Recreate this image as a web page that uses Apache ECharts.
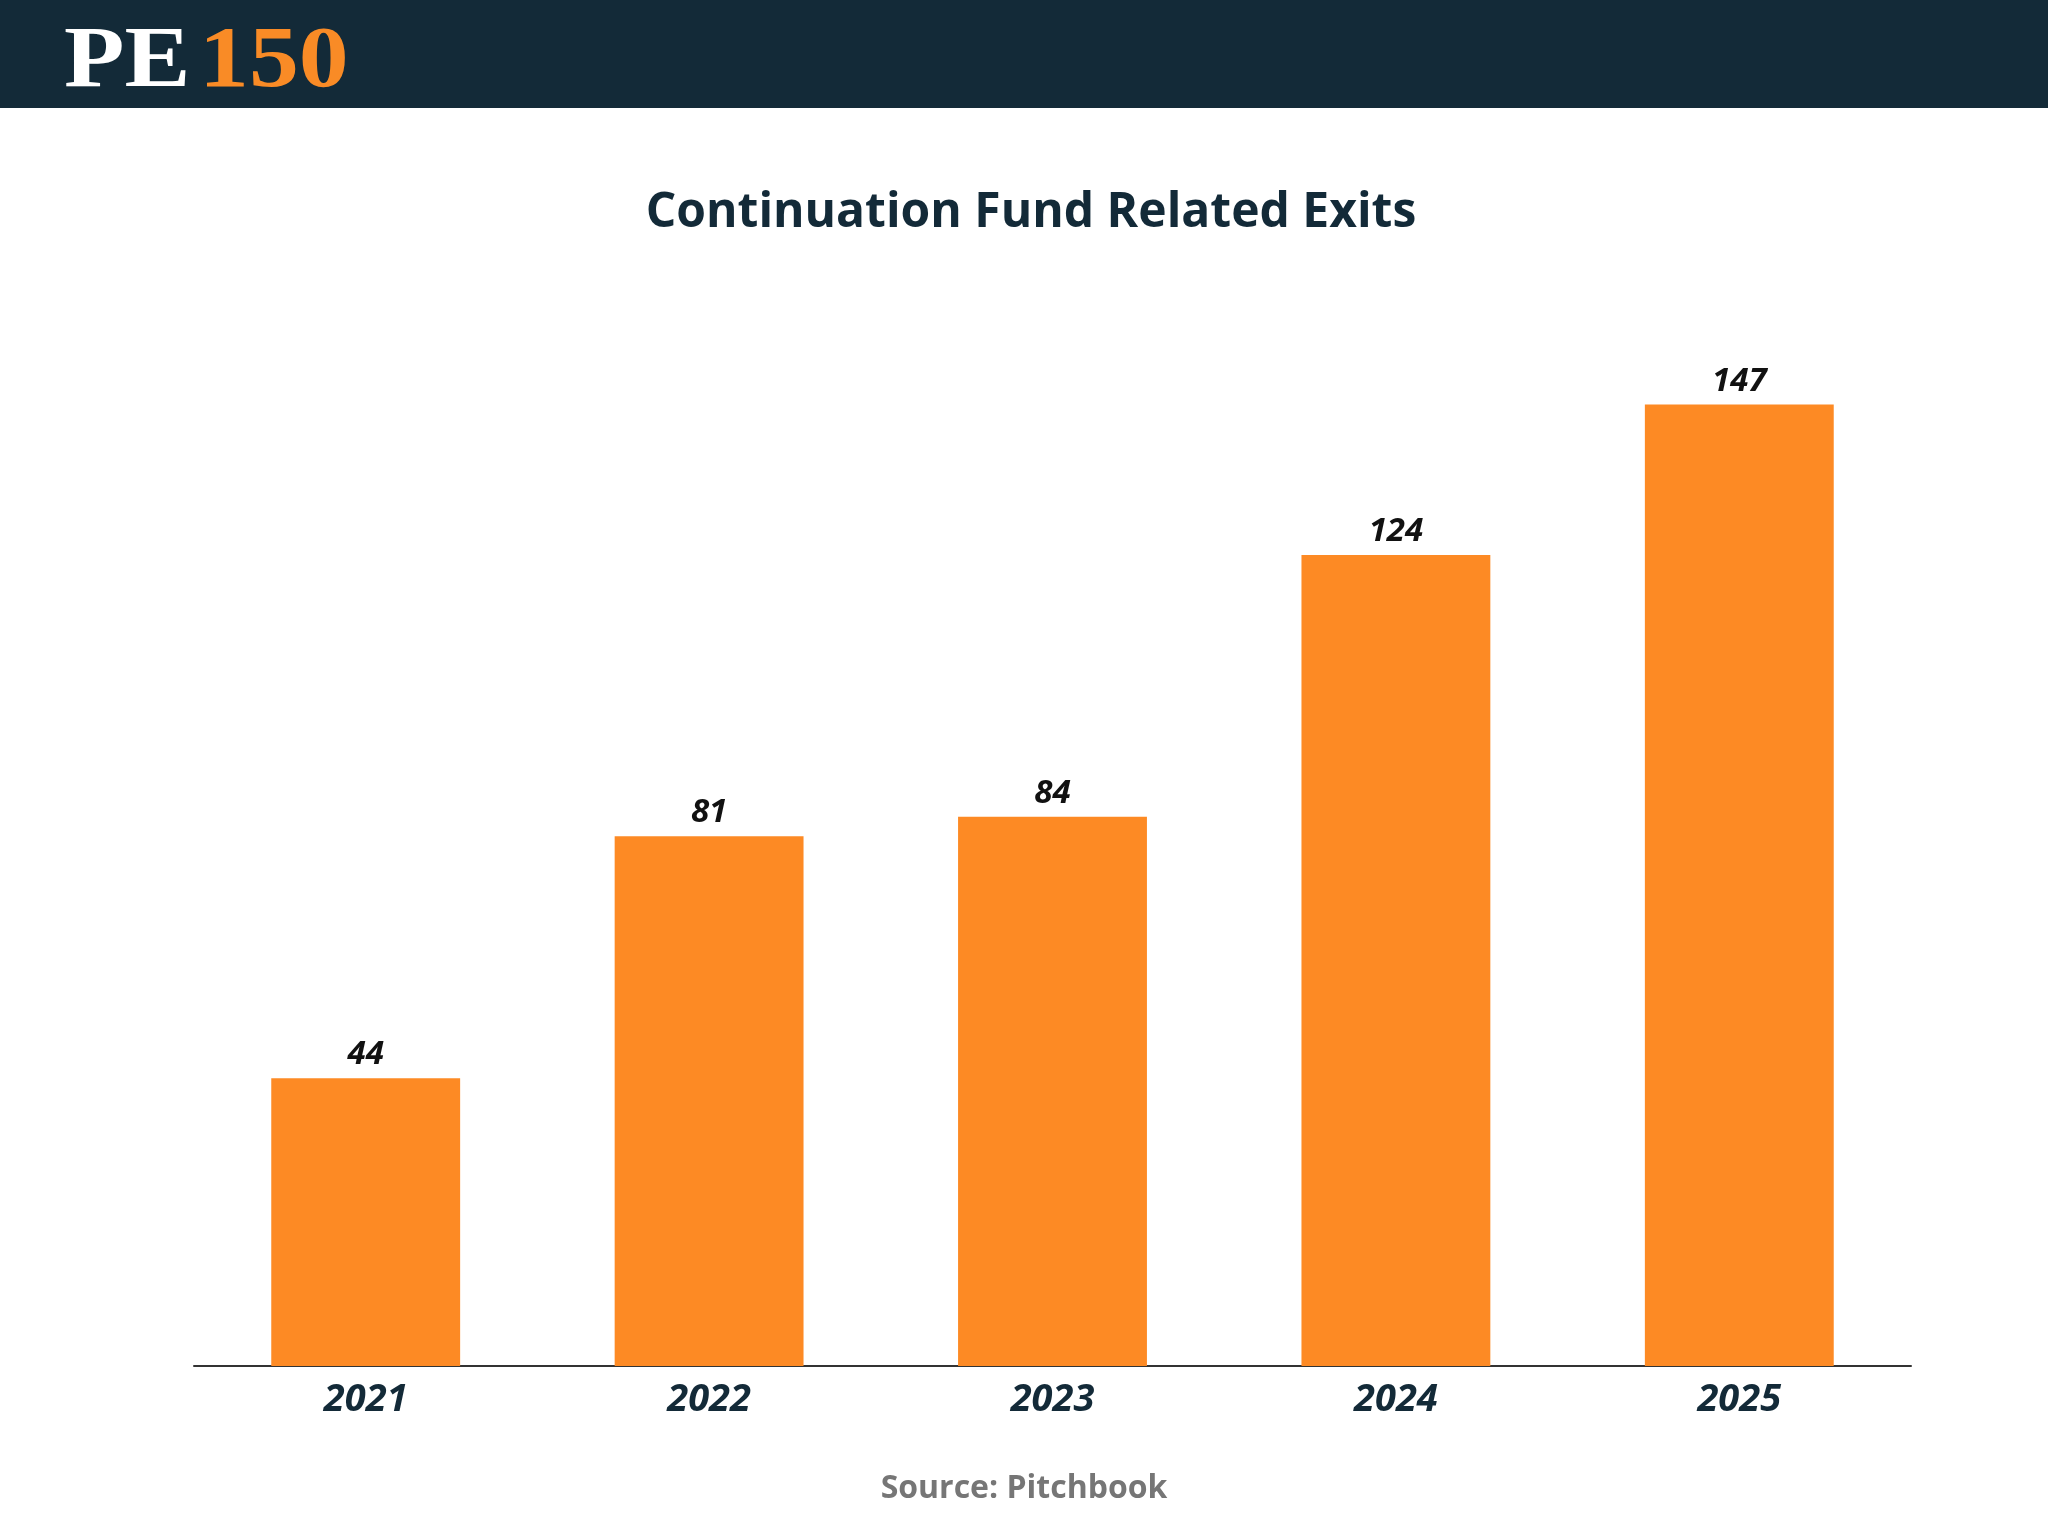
<!DOCTYPE html>
<html>
<head>
<meta charset="utf-8">
<script src="https://cdn.jsdelivr.net/npm/echarts@6/dist/echarts.min.js"></script>
<style>
html,body{margin:0;padding:0;background:#fff;}
#c{width:2048px;height:1536px;}
</style>
</head>
<body>
<div id="c"></div>
<script>
const categories = ['2021', '2022', '2023', '2024', '2025'];
const exits = [44, 81, 84, 124, 147];
const titleText = 'Continuation Fund Related Exits';
const sourceText = 'Source: Pitchbook';

const chart = echarts.init(document.getElementById('c'), null, {renderer: 'canvas'});
chart.setOption({
  backgroundColor: '#ffffff',
  animation: false,
  graphic: [
    {type: 'rect', left: 0, top: 0, shape: {width: 2048, height: 108}, style: {fill: '#132a38'}, z: 0},
    {type: 'text', x: 64, y: 64, scaleX: 1.15, style: {text: 'PE', fill: '#ffffff', font: 'bold 86px "Liberation Serif"', verticalAlign: 'middle', align: 'left'}, z: 1},
    {type: 'text', x: 199, y: 64, scaleX: 1.16, style: {text: '150', fill: '#f98b26', font: 'bold 86px "Liberation Serif"', verticalAlign: 'middle', align: 'left'}, z: 1},
    {type: 'text', x: 1031, y: 213, style: {text: titleText, fill: '#132a38', font: 'bold 48px "Open Sans"', verticalAlign: 'middle', align: 'center'}, z: 1},
    {type: 'text', x: 1024, y: 1489, style: {text: sourceText, fill: '#767676', font: 'bold 32px "Open Sans"', verticalAlign: 'middle', align: 'center'}, z: 1}
  ],
  grid: {left: 194, right: 137, top: 385, bottom: 170, containLabel: false},
  xAxis: {
    type: 'category',
    data: categories,
    axisLine: {lineStyle: {color: '#333333', width: 2}},
    axisTick: {show: false},
    axisLabel: {margin: 15, fontFamily: 'Open Sans', fontWeight: 'bold', fontStyle: 'italic', fontSize: 38, color: '#132a38'}
  },
  yAxis: {
    type: 'value', min: 0, max: 150, show: false,
    splitLine: {show: false}
  },
  series: [{
    type: 'bar',
    data: exits,
    barWidth: '55%',
    itemStyle: {color: '#fd8a24'},
    label: {
      show: true, position: 'top', distance: 7,
      fontFamily: 'Open Sans', fontWeight: 'bold', fontStyle: 'italic', fontSize: 33, color: '#111111'
    }
  }]
});
</script>
</body>
</html>
